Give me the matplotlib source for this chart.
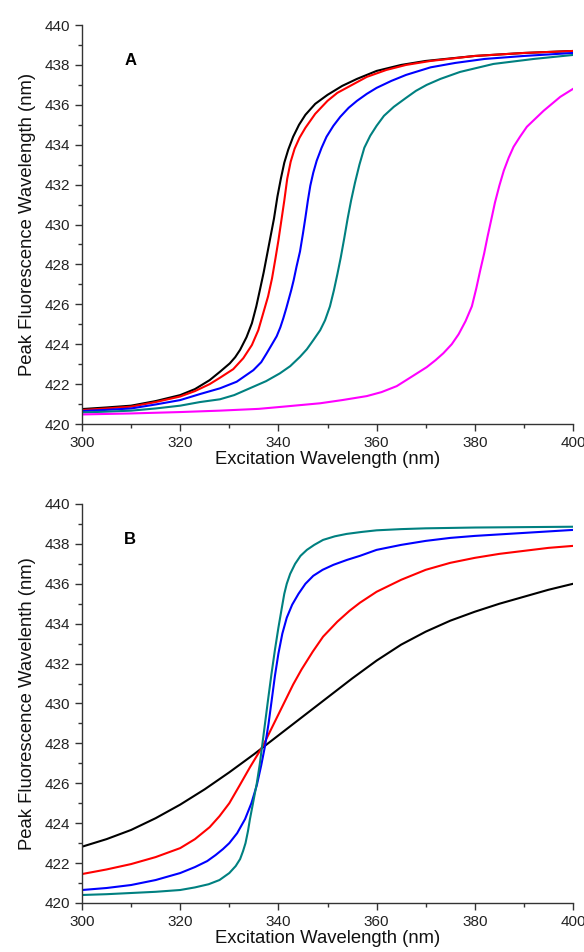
import numpy as np
from matplotlib import pyplot as plt
from matplotlib.ticker import MultipleLocator

plt.rcParams['font.family'] = ['Liberation Sans', 'DejaVu Sans']

# panel A (x: excitation nm, y: peak nm)
a_black_x = [300, 305, 310, 315, 320, 323, 326, 328.1, 330.1, 331.2, 332.2, 333.5, 334.6, 335.5, 336.3, 337.0,
             337.7, 338.4, 339.1, 339.8, 340.5, 341.2, 342.0, 343.0, 344.2, 345.5, 347.5, 350, 353, 356, 360, 365,
             370, 380, 390, 400]
a_black_y = [420.75, 420.83, 420.92, 421.15, 421.45, 421.75, 422.2, 422.62, 423.04, 423.35, 423.72, 424.35, 425.05,
             425.9, 426.8, 427.6, 428.5, 429.4, 430.3, 431.4, 432.3, 433.1, 433.75, 434.4, 435.0, 435.5, 436.05,
             436.5, 436.95, 437.3, 437.7, 438.0, 438.2, 438.45, 438.6, 438.7]
a_red_x = [300, 305, 310, 315, 320, 323, 326, 328.1, 330.8, 332.85, 334.6, 335.9, 336.9, 337.9, 338.7, 339.4,
           340.0, 340.6, 341.2, 341.8, 342.5, 343.3, 344.3, 345.5, 347.5, 350, 352, 355, 358, 362, 366, 371, 380,
           390, 400]
a_red_y = [420.7, 420.78, 420.87, 421.1, 421.38, 421.65, 422.0, 422.32, 422.75, 423.3, 423.96, 424.7, 425.55, 426.4,
           427.3, 428.3, 429.2, 430.2, 431.2, 432.3, 433.15, 433.8, 434.35, 434.85, 435.55, 436.2, 436.6, 437.0,
           437.4, 437.75, 438.0, 438.2, 438.45, 438.6, 438.7]
a_blue_x = [300, 305, 310, 315, 320, 324, 328.1, 331.5, 334.9, 336.5, 337.6, 338.7, 339.65, 340.4, 341.0, 341.6,
            342.1, 342.6, 343.1, 343.7, 344.4, 345.0, 345.5, 346.0, 346.5, 347.1, 347.8, 348.8, 349.8, 351.2,
            352.6, 354.3, 356.0, 358, 360, 363, 366, 371, 376, 382, 390, 400]
a_blue_y = [420.65, 420.71, 420.78, 420.98, 421.2, 421.5, 421.79, 422.12, 422.7, 423.1, 423.54, 424.0, 424.4,
            424.85, 425.3, 425.8, 426.25, 426.7, 427.2, 427.9, 428.65, 429.55, 430.35, 431.2, 431.95, 432.6, 433.2,
            433.85, 434.4, 434.95, 435.4, 435.85, 436.2, 436.55, 436.85, 437.2, 437.5, 437.88, 438.1, 438.3,
            438.45, 438.6]
a_teal_x = [300, 305, 310, 315, 320, 324, 328.1, 331, 334.9, 337.5, 340.3, 342.4, 344.4, 345.8, 347.1, 348.5,
            349.5, 350.5, 351.3, 352.0, 352.7, 353.4, 354.1, 354.8, 355.6, 356.5, 357.5, 358.7, 360, 361.5, 363.5,
            366, 368, 370.2, 373, 377, 383.8, 392, 400]
a_teal_y = [420.58, 420.62, 420.67, 420.78, 420.92, 421.1, 421.24, 421.45, 421.87, 422.15, 422.54, 422.9, 423.37,
            423.75, 424.2, 424.7, 425.2, 425.9, 426.7, 427.5, 428.35, 429.3, 430.3, 431.2, 432.1, 433.0, 433.85,
            434.45, 434.95, 435.45, 435.9, 436.35, 436.7, 437.0, 437.3, 437.65, 438.05, 438.3, 438.5]
a_magenta_x = [300, 310, 320, 328, 336, 341, 348.5, 353, 358, 361, 364.1, 367, 370.2, 372, 373.6, 375.3, 376.7,
               378.1, 379.4, 380.3, 381.1, 381.9, 382.6, 383.4, 384.1, 385.0, 385.9, 386.9, 387.9, 389.2, 390.6,
               392.3, 394.0, 395.7, 397.4, 400]
a_magenta_y = [420.48, 420.53, 420.6, 420.67, 420.76, 420.87, 421.04, 421.2, 421.4, 421.6, 421.9, 422.35, 422.85,
               423.2, 423.55, 424.0, 424.5, 425.15, 425.9, 426.8, 427.7, 428.55, 429.4, 430.3, 431.1, 431.95, 432.7,
               433.35, 433.9, 434.4, 434.9, 435.3, 435.7, 436.05, 436.4, 436.8]

# panel B
b_black_x = [300, 305, 310, 315, 320, 325, 330, 335, 340, 345, 350, 355, 360, 365, 370, 375, 380, 385, 390, 395, 400]
b_black_y = [422.82, 423.2, 423.66, 424.25, 424.93, 425.7, 426.55, 427.45, 428.4, 429.35, 430.3, 431.25, 432.15,
             432.95, 433.6, 434.15, 434.6, 435.0, 435.35, 435.7, 436.0]
b_red_x = [300, 305, 310, 315, 320, 323, 326, 328, 330, 332, 334.2, 336.9, 339, 341.3, 343, 344.7, 347, 349.1,
           352, 354.5, 356.6, 360, 365, 370, 375, 380, 385, 390, 395, 400]
b_red_y = [421.45, 421.68, 421.95, 422.3, 422.75, 423.2, 423.8, 424.35, 425.0, 425.85, 426.8, 427.9, 428.95,
           430.1, 430.95, 431.7, 432.6, 433.35, 434.1, 434.65, 435.05, 435.6, 436.2, 436.7, 437.05, 437.3, 437.5,
           437.65, 437.8, 437.9]
b_blue_x = [300, 305, 310, 315, 320, 323, 325.5, 327.2, 328.7, 330, 331.6, 333.2, 334.5, 335.6, 336.5, 337.3,
            338.0, 338.6, 339.3, 340.0, 340.8, 341.7, 342.8, 344.1, 345.5, 347.1, 349, 351.2, 354, 356.6, 360, 365,
            370, 375, 380, 390, 400]
b_blue_y = [420.65, 420.75, 420.9, 421.15, 421.5, 421.8, 422.1, 422.4, 422.7, 423.0, 423.5, 424.2, 425.0, 425.9,
            426.9, 427.9, 429.0, 430.1, 431.4, 432.5, 433.5, 434.3, 434.95, 435.5, 436.0, 436.4, 436.7, 436.95,
            437.2, 437.4, 437.7, 437.95, 438.15, 438.3, 438.4, 438.55, 438.7]
b_teal_x = [300, 305, 310, 315, 320, 323, 325.8, 328, 330, 331.3, 332.2, 332.8, 333.3, 333.8, 334.2, 334.9, 335.6,
            336.2, 336.7, 337.3, 337.9, 338.6, 339.3, 340.0, 340.7, 341.2, 341.7, 342.4, 343.4, 344.5, 345.8,
            347.3, 349.1, 351.5, 353.9, 357, 360, 365, 370, 380, 390, 400]
b_teal_y = [420.4, 420.44, 420.5, 420.56, 420.65, 420.78, 420.94, 421.15, 421.5, 421.85, 422.2, 422.6, 423.0,
            423.6, 424.2, 425.1, 426.0, 426.95, 427.9, 429.05, 430.2, 431.5, 432.7, 433.8, 434.8, 435.5, 436.0,
            436.5, 437.0, 437.4, 437.7, 437.95, 438.2, 438.38, 438.5, 438.6, 438.68, 438.74, 438.78, 438.82,
            438.84, 438.86]

teal = '#008080'
panels = [
    ('A', 'Peak Fluorescence Wavelength (nm)',
     [(a_black_x, a_black_y, 'black'), (a_red_x, a_red_y, 'red'), (a_blue_x, a_blue_y, 'blue'),
      (a_teal_x, a_teal_y, teal), (a_magenta_x, a_magenta_y, '#ff00ff')]),
    ('B', 'Peak Fluorescence Wavelenth (nm)',
     [(b_black_x, b_black_y, 'black'), (b_red_x, b_red_y, 'red'), (b_blue_x, b_blue_y, 'blue'),
      (b_teal_x, b_teal_y, teal)]),
]

fig = plt.figure(figsize=(5.84, 9.52), dpi=100)
axes_boxes = [[0.1404, 0.5546, 0.8408, 0.4191], [0.1404, 0.0515, 0.8408, 0.4191]]

for box, (letter, ylabel, curves) in zip(axes_boxes, panels):
    ax = fig.add_axes(box)
    for x, y, c in curves:
        ax.plot(x, y, color=c, lw=1.5, solid_joinstyle='round')
    ax.set_xlim(300, 400)
    ax.set_ylim(420, 440)
    ax.xaxis.set_major_locator(MultipleLocator(20))
    ax.xaxis.set_minor_locator(MultipleLocator(10))
    ax.yaxis.set_major_locator(MultipleLocator(2))
    ax.yaxis.set_minor_locator(MultipleLocator(1))
    ax.spines['top'].set_visible(False)
    ax.spines['right'].set_visible(False)
    for s in ['left', 'bottom']:
        ax.spines[s].set_color('#333333')
        ax.spines[s].set_linewidth(1.0)
    ax.tick_params(which='major', direction='out', length=5, width=1.0, color='#333333',
                   labelsize=11, labelcolor='#222222')
    ax.tick_params(which='minor', direction='out', length=3, width=1.0, color='#333333')
    ax.tick_params(axis='x', which='major', pad=3.6)
    ax.tick_params(axis='y', which='major', pad=3.6)
    ax.set_xlabel('Excitation Wavelength (nm)', fontsize=13.3, labelpad=1, color='#111111')
    ax.set_ylabel(ylabel, fontsize=13.3, labelpad=6.5, color='#111111')
    ax.text(309.8, 438.2, letter, fontsize=12, fontweight='bold', ha='center', va='center')

fig.savefig('out.png', dpi=100)
